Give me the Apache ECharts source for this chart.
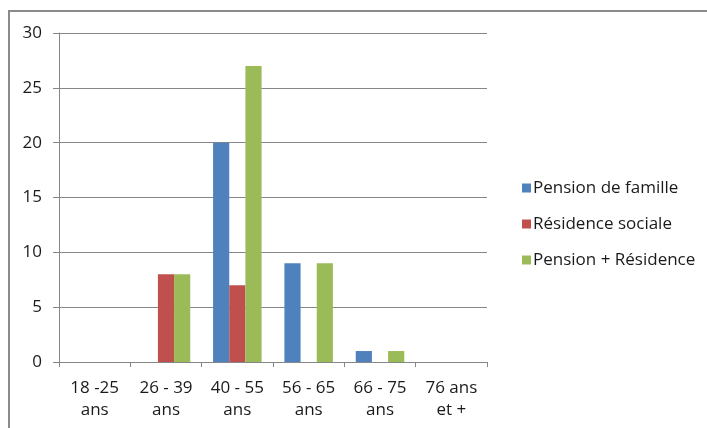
<!DOCTYPE html>
<html>
<head>
<meta charset="utf-8">
<style>
  html, body { margin: 0; padding: 0; background: #fff; }
  #chart { width: 707px; height: 428px; }
</style>
<script src="https://cdn.jsdelivr.net/npm/echarts@6/dist/echarts.min.js"></script>
</head>
<body>
<div id="chart"></div>
<script>
// Age groups (two-line labels)
const categories = ['18 -25\nans', '26 - 39\nans', '40 - 55\nans', '56 - 65\nans', '66 - 75\nans', '76 ans\net +'];
const seriesNames = ['Pension de famille', 'Résidence sociale', 'Pension + Résidence'];
const pensionFamille = [0, 0, 20, 9, 1, 0];
const residenceSociale = [0, 8, 7, 0, 0, 0];
const pensionResidence = [0, 8, 27, 9, 1, 0];
const yTicks = { min: 0, max: 30, interval: 5 };

const colors = ['#4F81BD', '#C0504D', '#9BBB59'];
const fontFamily = '"Open Sans", Lato, sans-serif';
const axisGray = '#868686';

const chart = echarts.init(document.getElementById('chart'), null, { renderer: 'canvas' });

function barSeries(name, data, color) {
  return {
    name: name,
    type: 'bar',
    data: data,
    barGap: '0%',
    barCategoryGap: '32%',
    itemStyle: { color: color },
    emphasis: { disabled: true }
  };
}

chart.setOption({
  animation: false,
  color: colors,
  graphic: [{
    type: 'rect',
    shape: { x: 9, y: 11, width: 800, height: 500 },
    style: { fill: 'none', stroke: '#8a8a8a', lineWidth: 2 },
    silent: true
  }],
  grid: { left: 59, right: 220, top: 33, bottom: 66, containLabel: false },
  xAxis: {
    type: 'category',
    data: categories,
    axisLine: { show: true, lineStyle: { color: axisGray, width: 1 } },
    axisTick: { show: true, length: 5, alignWithLabel: false, lineStyle: { color: axisGray } },
    axisLabel: {
      color: '#1a1a1a',
      fontFamily: fontFamily,
      fontSize: 17,
      lineHeight: 22,
      margin: 15,
      interval: 0
    },
    splitLine: { show: false }
  },
  yAxis: {
    type: 'value',
    min: yTicks.min,
    max: yTicks.max,
    interval: yTicks.interval,
    axisLine: { show: true, lineStyle: { color: axisGray, width: 1 } },
    axisTick: { show: true, length: 6, lineStyle: { color: axisGray } },
    axisLabel: {
      color: '#1a1a1a',
      fontFamily: fontFamily,
      fontSize: 17,
      margin: 17
    },
    splitLine: { show: true, lineStyle: { color: axisGray, width: 1 } }
  },
  legend: {
    orient: 'vertical',
    left: 517,
    top: 174,
    itemWidth: 9,
    itemHeight: 9,
    itemGap: 18,
    icon: 'rect',
    selectedMode: false,
    textStyle: {
      color: '#1a1a1a',
      fontFamily: fontFamily,
      fontSize: 17,
      lineHeight: 18,
      padding: [0, 0, 0, -3]
    },
    data: seriesNames
  },
  series: [
    barSeries(seriesNames[0], pensionFamille, colors[0]),
    barSeries(seriesNames[1], residenceSociale, colors[1]),
    barSeries(seriesNames[2], pensionResidence, colors[2])
  ]
});
</script>
</body>
</html>
